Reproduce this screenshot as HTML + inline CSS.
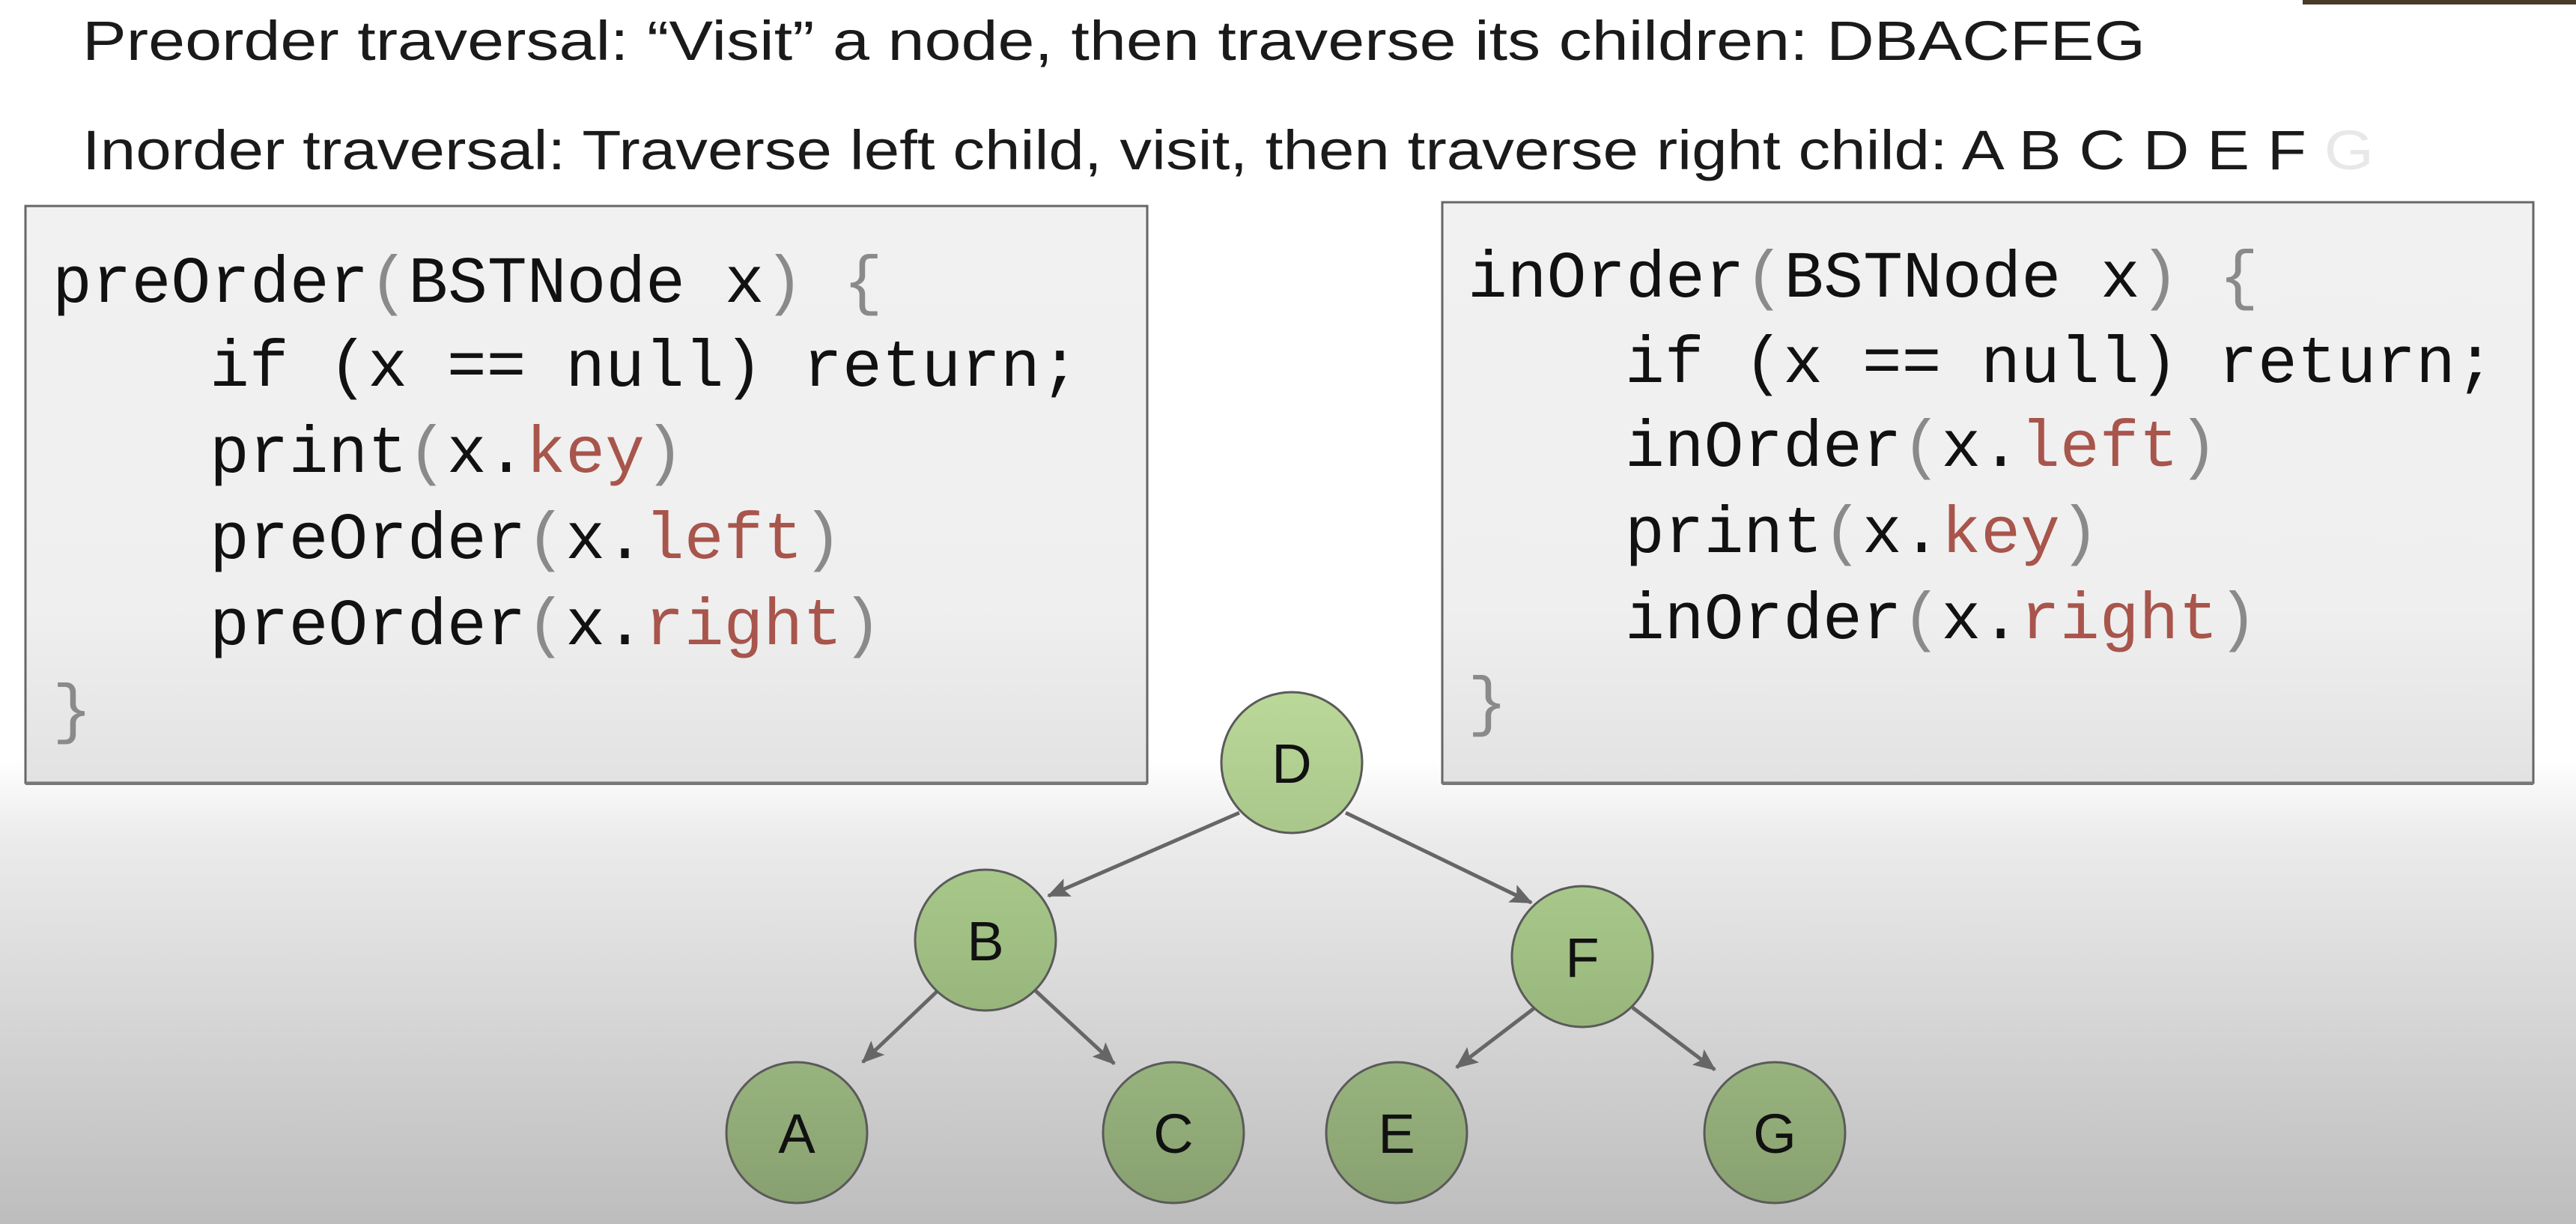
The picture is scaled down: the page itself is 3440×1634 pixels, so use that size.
<!DOCTYPE html>
<html><head><meta charset="utf-8"><style>
html,body{margin:0;padding:0;width:3440px;height:1634px;overflow:hidden;}
svg{display:block}
.h{font-family:"Liberation Sans",sans-serif;font-size:74px;fill:#1a1a1a}
.c{font-family:"Liberation Mono",monospace;font-size:88px;fill:#111}
.g{fill:#8a8a8a}.r{fill:#a8554c}
.n{font-family:"Liberation Sans",sans-serif;font-size:74px;fill:#111;text-anchor:middle}
</style></head><body>
<svg width="3440" height="1634" viewBox="0 0 3440 1634" xmlns="http://www.w3.org/2000/svg">
<defs>
<linearGradient id="bg" x1="0" y1="0" x2="0" y2="1">
<stop offset="0" stop-color="#ffffff"/><stop offset="0.62" stop-color="#ffffff"/><stop offset="0.68" stop-color="#ececec"/><stop offset="1" stop-color="#bdbdbd"/>
</linearGradient>
<linearGradient id="box" x1="0" y1="0" x2="0" y2="1">
<stop offset="0" stop-color="#f1f1f1"/><stop offset="0.7" stop-color="#efefef"/><stop offset="1" stop-color="#e2e2e2"/>
</linearGradient>
<linearGradient id="nd1" x1="0" y1="0" x2="0" y2="1"><stop offset="0" stop-color="#bad898"/><stop offset="1" stop-color="#a9c78a"/></linearGradient>
<linearGradient id="nd2" x1="0" y1="0" x2="0" y2="1"><stop offset="0" stop-color="#a8c88a"/><stop offset="1" stop-color="#98b67c"/></linearGradient>
<linearGradient id="nd3" x1="0" y1="0" x2="0" y2="1"><stop offset="0" stop-color="#98b47e"/><stop offset="1" stop-color="#88a070"/></linearGradient>
<marker id="ar" markerWidth="30" markerHeight="26" refX="28" refY="13" orient="auto" markerUnits="userSpaceOnUse" viewBox="0 0 30 26">
<path d="M0,0 L30,13 L0,26 L6,13 z" fill="#666"/></marker>
</defs>
<rect width="3440" height="1634" fill="url(#bg)"/>
<rect x="3075" y="0" width="365" height="6" fill="#4a3a28"/>
<text class="h" x="110" y="80" textLength="2755" lengthAdjust="spacingAndGlyphs">Preorder traversal: “Visit” a node, then traverse its children:  DBACFEG</text>
<text class="h" x="110" y="226" textLength="3060" lengthAdjust="spacingAndGlyphs">Inorder traversal: Traverse left child, visit, then traverse right child:   A B C D E F <tspan fill="#e8e8e8">G</tspan></text>

<rect x="34" y="275" width="1498" height="770" fill="url(#box)" stroke="#666" stroke-width="3"/>
<line x1="34" y1="1046" x2="1532" y2="1046" stroke="#777" stroke-width="4"/>
<rect x="1926" y="270" width="1457" height="775" fill="url(#box)" stroke="#666" stroke-width="3"/>
<line x1="1926" y1="1046" x2="3383" y2="1046" stroke="#777" stroke-width="4"/>

<g class="c">
<text x="70" y="403">preOrder<tspan class="g">(</tspan>BSTNode x<tspan class="g">) {</tspan></text>
<text x="280" y="515">if (x == null) return;</text>
<text x="280" y="630">print<tspan class="g">(</tspan>x.<tspan class="r">key</tspan><tspan class="g">)</tspan></text>
<text x="280" y="745">preOrder<tspan class="g">(</tspan>x.<tspan class="r">left</tspan><tspan class="g">)</tspan></text>
<text x="280" y="860">preOrder<tspan class="g">(</tspan>x.<tspan class="r">right</tspan><tspan class="g">)</tspan></text>
<text x="70" y="975" class="g">}</text>

<text x="1960" y="396">inOrder<tspan class="g">(</tspan>BSTNode x<tspan class="g">) {</tspan></text>
<text x="2170" y="510">if (x == null) return;</text>
<text x="2170" y="622">inOrder<tspan class="g">(</tspan>x.<tspan class="r">left</tspan><tspan class="g">)</tspan></text>
<text x="2170" y="737">print<tspan class="g">(</tspan>x.<tspan class="r">key</tspan><tspan class="g">)</tspan></text>
<text x="2170" y="852">inOrder<tspan class="g">(</tspan>x.<tspan class="r">right</tspan><tspan class="g">)</tspan></text>
<text x="1960" y="965" class="g">}</text>
</g>

<g stroke="#666" stroke-width="5" marker-end="url(#ar)">
<line x1="1655" y1="1085" x2="1400" y2="1196"/>
<line x1="1797" y1="1085" x2="2045" y2="1205"/>
<line x1="1255" y1="1320" x2="1152" y2="1418"/>
<line x1="1380" y1="1320" x2="1488" y2="1420"/>
<line x1="2050" y1="1345" x2="1945" y2="1425"/>
<line x1="2180" y1="1345" x2="2290" y2="1428"/>
</g>

<g stroke="#5a5a5a" stroke-width="3">
<circle cx="1725" cy="1018" r="94" fill="url(#nd1)"/>
<circle cx="1316" cy="1255" r="94" fill="url(#nd2)"/>
<circle cx="2113" cy="1277" r="94" fill="url(#nd2)"/>
<circle cx="1064" cy="1512" r="94" fill="url(#nd3)"/>
<circle cx="1567" cy="1512" r="94" fill="url(#nd3)"/>
<circle cx="1865" cy="1512" r="94" fill="url(#nd3)"/>
<circle cx="2370" cy="1512" r="94" fill="url(#nd3)"/>
</g>
<g class="n">
<text x="1725" y="1045">D</text>
<text x="1316" y="1282">B</text>
<text x="2113" y="1304">F</text>
<text x="1064" y="1539">A</text>
<text x="1567" y="1539">C</text>
<text x="1865" y="1539">E</text>
<text x="2370" y="1539">G</text>
</g>
</svg>
</body></html>
